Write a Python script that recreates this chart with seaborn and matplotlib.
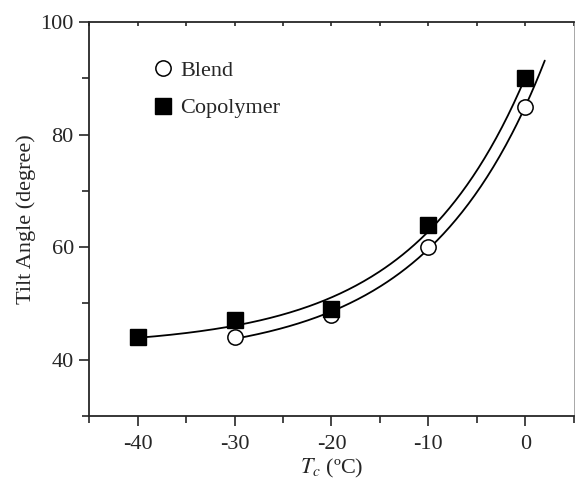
import numpy as np
import pandas as pd
import matplotlib
matplotlib.use("Agg")
import matplotlib.pyplot as plt
import seaborn as sns
from matplotlib.ticker import MultipleLocator

# data
blend_t = [-30, -20, -10, 0]
blend_angle = [44, 48, 60, 85]
copo_t = [-40, -30, -20, -10, 0]
copo_angle = [44, 47, 49, 64, 90]


def exp_fit(x, y, xs):
    # y = y0 + A*exp(x/tau), tau by grid search, y0/A by least squares
    x = np.asarray(x, float)
    y = np.asarray(y, float)
    best = None
    for tau in np.linspace(3, 40, 741):
        M = np.column_stack([np.ones_like(x), np.exp(x / tau)])
        coef, *_ = np.linalg.lstsq(M, y, rcond=None)
        err = np.sum((M @ coef - y) ** 2)
        if best is None or err < best[0]:
            best = (err, tau, coef)
    _, tau, coef = best
    return coef[0] + coef[1] * np.exp(xs / tau)


sns.set_style("ticks")
plt.rcParams["font.family"] = ["Liberation Serif", "DejaVu Serif"]
plt.rcParams["mathtext.fontset"] = "stix"
plt.rcParams["axes.linewidth"] = 1.3

fig = plt.figure(figsize=(5.75, 4.83), dpi=100)
ax = fig.add_axes([0.155, 0.139, 0.843, 0.815])

xs_b = np.linspace(-30, 2, 200)
xs_c = np.linspace(-40, 0, 200)
fit = pd.concat([
    pd.DataFrame({"T": xs_b, "angle": exp_fit(blend_t, blend_angle, xs_b), "s": "Blend"}),
    pd.DataFrame({"T": xs_c, "angle": exp_fit(copo_t, copo_angle, xs_c), "s": "Copolymer"}),
])
sns.lineplot(data=fit, x="T", y="angle", units="s", estimator=None,
             color="black", lw=1.3, ax=ax, legend=False)

pts_b = pd.DataFrame({"T": blend_t, "angle": blend_angle})
pts_c = pd.DataFrame({"T": copo_t, "angle": copo_angle})
ax.plot(pts_b["T"], pts_b["angle"], "o", ms=11, mfc="white", mec="black",
        mew=1.1, label="Blend", zorder=3)
ax.plot(pts_c["T"], pts_c["angle"], "s", ms=11, mfc="black", mec="black",
        label="Copolymer", zorder=3)

ax.set_xlim(-45, 5)
ax.set_ylim(30, 100)
ax.xaxis.set_major_locator(MultipleLocator(10))
ax.xaxis.set_minor_locator(MultipleLocator(5))
ax.yaxis.set_major_locator(MultipleLocator(20))
ax.yaxis.set_minor_locator(MultipleLocator(10))
ax.set_yticks([40, 60, 80, 100])
ax.tick_params(which="major", direction="out", length=7, width=1.2,
               labelsize=16)
ax.tick_params(axis="x", which="major", pad=7)
ax.tick_params(axis="y", which="major", pad=4)
ax.tick_params(which="minor", direction="out", length=5, width=1.2)
ax.tick_params(which="both", right=False)
ax.tick_params(axis="x", which="both", top=True)
ax.spines["right"].set_linewidth(0.6)
ax.spines["right"].set_color("#999999")

# top ticks point inward and are short
for t in ax.xaxis.get_major_ticks() + ax.xaxis.get_minor_ticks():
    t.tick2line.set_markersize(3)
    t.tick2line.set_marker(3)

ax.set_xticklabels([f"{int(v)}" for v in ax.get_xticks()])
ax.set_xlabel(r"$T_c$ (ºC)", fontsize=16, labelpad=2)
ax.set_ylabel("Tilt Angle (degree)", fontsize=16, labelpad=3)

ax.legend(loc="upper left", bbox_to_anchor=(0.106, 0.925), frameon=False,
          fontsize=16, handletextpad=0.2, labelspacing=0.75,
          handlelength=1.2, borderaxespad=0)

fig.savefig("out.png", dpi=100)
